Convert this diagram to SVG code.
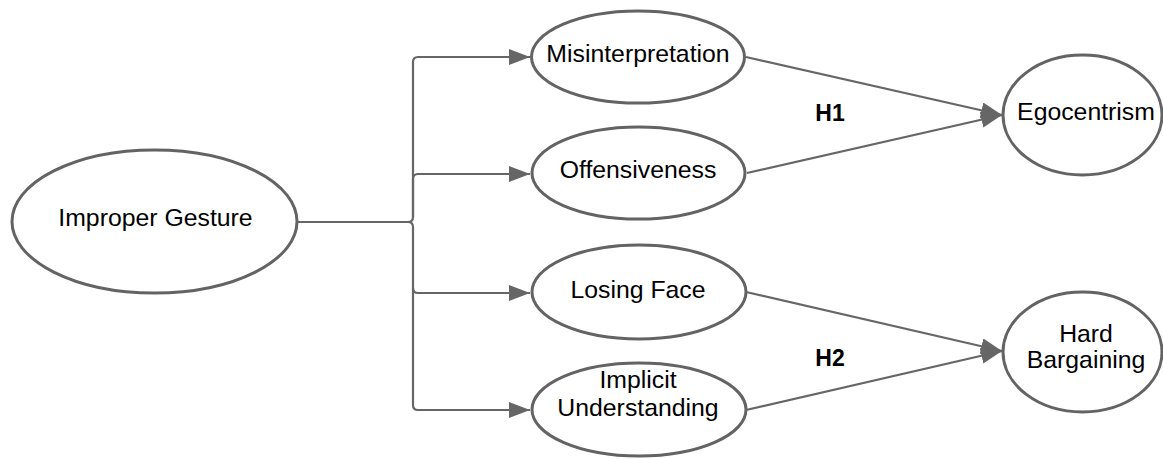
<svg xmlns="http://www.w3.org/2000/svg" width="1163" height="459" viewBox="0 0 1163 459">
<style>
.node ellipse{fill:#fff;stroke:#636363;stroke-width:3}
.node text{font-family:"Liberation Sans",Arial,sans-serif;font-size:24.8px;fill:#000;text-anchor:middle}
.conn path{fill:none;stroke:#666;stroke-width:2.2}
.lbl{font-family:"Liberation Sans",Arial,sans-serif;font-size:23px;font-weight:bold;fill:#000;text-anchor:middle}
</style>
<defs>
<marker id="ah" markerUnits="userSpaceOnUse" markerWidth="22" markerHeight="18" refX="21" refY="8" orient="auto">
<path d="M0,0 L21,8 L0,16 Z" fill="#666"/>
</marker>
</defs>
<g class="conn">
<path d="M297,222 H408 Q413,222 413,217 V62 Q413,57 418,57 H530" marker-end="url(#ah)"/>
<path d="M413,217 V179 Q413,174 418,174 H530" marker-end="url(#ah)"/>
<path d="M408,222 Q413,222 413,227 V288 Q413,293 418,293 H530" marker-end="url(#ah)"/>
<path d="M413,288 V405 Q413,410 418,410 H530" marker-end="url(#ah)"/>
<path d="M746,57 L1002,115" marker-end="url(#ah)"/>
<path d="M747,173 L1002,115" marker-end="url(#ah)"/>
<path d="M746,292 L1002,351" marker-end="url(#ah)"/>
<path d="M746,410 L1002,351" marker-end="url(#ah)"/>
</g>
<text class="lbl" x="830" y="121">H1</text>
<text class="lbl" x="830" y="366">H2</text>
<g class="node" id="improper-gesture">
<ellipse cx="154.5" cy="221.5" rx="142.5" ry="71.5"/>
<text x="155.5" y="226">Improper Gesture</text>
</g>
<g class="node" id="misinterpretation">
<ellipse cx="638" cy="57" rx="106.5" ry="46"/>
<text x="638" y="62">Misinterpretation</text>
</g>
<g class="node" id="offensiveness">
<ellipse cx="638.5" cy="173" rx="106.5" ry="46"/>
<text x="638" y="178">Offensiveness</text>
</g>
<g class="node" id="losing-face">
<ellipse cx="639" cy="292" rx="107" ry="47"/>
<text x="638" y="298">Losing Face</text>
</g>
<g class="node" id="implicit-understanding">
<ellipse cx="639" cy="409.5" rx="107" ry="46.5"/>
<text x="638" y="388">Implicit</text>
<text x="638" y="416">Understanding</text>
</g>
<g class="node" id="egocentrism">
<ellipse cx="1082.5" cy="115" rx="79.5" ry="60"/>
<text x="1086" y="120">Egocentrism</text>
</g>
<g class="node" id="hard-bargaining">
<ellipse cx="1082.5" cy="352" rx="79.5" ry="60"/>
<text x="1086" y="342">Hard</text>
<text x="1086" y="368">Bargaining</text>
</g>
</svg>
